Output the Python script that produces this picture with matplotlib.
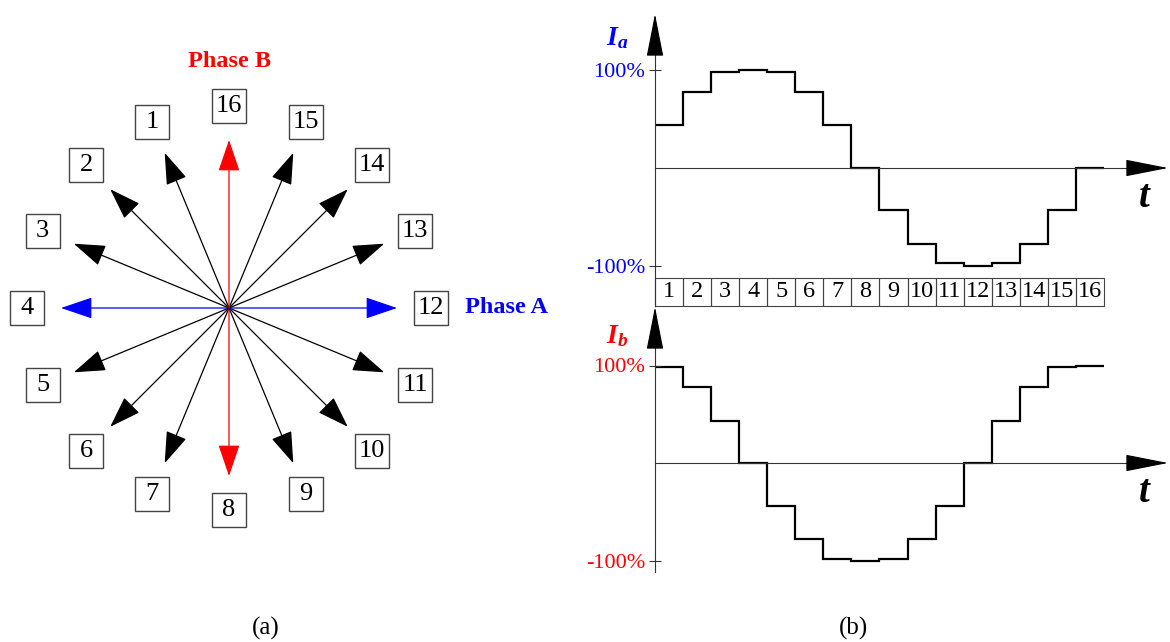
import numpy as np
import matplotlib
matplotlib.use('Agg')
import matplotlib.pyplot as plt
from matplotlib.patches import Rectangle

plt.rcParams['font.family'] = ['Liberation Serif', 'DejaVu Serif']
plt.rcParams['mathtext.fontset'] = 'custom'
plt.rcParams['mathtext.it'] = 'Liberation Serif:italic:bold'
plt.rcParams['mathtext.rm'] = 'Liberation Serif'

# phasor labels, counted from phase A (12) anticlockwise
phasor_labels = list(range(1, 17))
phasor_angles = [90 + 22.5 * k for k in phasor_labels]
phasor_colors = {4: 'blue', 12: 'blue', 8: 'red', 16: 'red'}

# step currents for the 16 steps
steps = list(range(1, 17))
ia = [0.44, 0.78, 0.98, 1.0, 0.98, 0.78, 0.44, 0.0,
      -0.43, -0.78, -0.97, -1.0, -0.97, -0.78, -0.43, 0.0]
ib = [0.98, 0.78, 0.43, 0.0, -0.44, -0.78, -0.98, -1.0,
      -0.98, -0.78, -0.44, 0.0, 0.43, 0.78, 0.98, 1.0]

W, H = 1170, 642
fig = plt.figure(figsize=(W / 100, H / 100), dpi=100)


def px_axes(x0, y0, x1, y1):
    a = fig.add_axes([x0 / W, 1 - y1 / H, (x1 - x0) / W, (y1 - y0) / H])
    a.patch.set_visible(False)
    return a


# ---------- (a) phasor diagram ----------
cx, cy, s = 229, 308, 168.0
ax = px_axes(0, 0, 560, 600)
ax.set_xlim(-cx / s, (560 - cx) / s)
ax.set_ylim((cy - 600) / s, cy / s)
ax.axis('off')

box = 34 / s
for k, ang in zip(phasor_labels, phasor_angles):
    a = np.deg2rad(ang)
    c = phasor_colors.get(k, 'black')
    ax.annotate('', xy=(np.cos(a), np.sin(a)), xytext=(0, 0),
                arrowprops=dict(arrowstyle='-|>,head_length=2.0,head_width=0.68',
                                mutation_scale=10, color=c, lw=0.9,
                                shrinkA=0, shrinkB=0))
    bx, by = 1.2 * np.cos(a), 1.2 * np.sin(a)
    ax.add_patch(Rectangle((bx - box / 2, by - box / 2), box, box,
                           fill=False, ec='#444444', lw=1))
    ax.text(bx, by, str(k), ha='center', va='center', fontsize=19)

ax.text(0, (cy - 62) / s, 'Phase B', color='red', fontsize=17.5,
        fontweight='bold', ha='center', va='center')
ax.text((465 - cx) / s, 0, 'Phase A', color='blue', fontsize=17.5,
        fontweight='bold', ha='left', va='center')


# ---------- (b) step waveforms ----------
x0, dx = 655, 28.06
t_tip = (1168 - x0) / dx


def wave_axes(top, bottom, zero, unit, values, name, color, axis_lo, tip, strip):
    w = px_axes(570, top, 1170, bottom)
    w.set_xlim((570 - x0) / dx, (1170 - x0) / dx)
    w.set_ylim((zero - bottom) / unit, (zero - top) / unit)
    for sp in ['top', 'right']:
        w.spines[sp].set_visible(False)
    w.spines['left'].set_position(('data', 0))
    w.spines['left'].set_bounds(axis_lo, tip - 0.3)
    w.spines['bottom'].set_position(('data', 0))
    w.spines['bottom'].set_bounds(0, t_tip - 1.0)
    for sp in ['left', 'bottom']:
        w.spines[sp].set_color('#333333')
        w.spines[sp].set_linewidth(0.8)
    w.set_xticks([])
    w.set_yticks([-1, 1], ['-100%', '100%'])
    w.tick_params(axis='y', direction='inout', length=8.5, width=0.8,
                  color='#333333', labelsize=16, labelcolor=color, pad=3)

    w.stairs(values, np.arange(len(values) + 1), baseline=None,
             color='black', lw=1.6)

    # axis arrow heads
    w.annotate('', xy=(0, tip), xytext=(0, tip - 0.35),
               arrowprops=dict(arrowstyle='-|>,head_length=2.75,head_width=0.54',
                               mutation_scale=10, color='black', lw=0.8,
                               shrinkA=0, shrinkB=0), annotation_clip=False)
    w.annotate('', xy=(t_tip, 0), xytext=(t_tip - 1.0, 0),
               arrowprops=dict(arrowstyle='-|>,head_length=2.75,head_width=0.54',
                               mutation_scale=10, fc='black', ec='black',
                               lw=0.8, shrinkA=0, shrinkB=0),
               annotation_clip=False)

    w.text((1145 - x0) / dx, -30 / unit, '$t$', fontsize=28,
           ha='center', va='center')
    w.text((617 - x0) / dx, (zero - (top + 30 if top > 0 else 38)) / unit,
           name, color=color, fontsize=20, ha='center', va='center')

    if strip:
        y_top = (zero - 278) / unit
        y_bot = (zero - 306) / unit
        for k in steps:
            w.add_patch(Rectangle((k - 1, y_bot), 1, y_top - y_bot, fill=False,
                                  ec='#444444', lw=0.8, clip_on=False))
            w.text(k - 0.5, (y_top + y_bot) / 2, str(k), ha='center',
                   va='center', fontsize=17.5)
    return w


wave_axes(0, 306, 168, 98.0, ia, '$I_a$', 'blue', (168 - 306) / 98.0,
          (168 - 14) / 98.0, True)
wave_axes(306, 600, 463, 97.5, ib, '$I_b$', 'red', (463 - 572) / 97.5,
          (463 - 307) / 97.5, False)

fig.text(266 / W, 1 - 628 / H, '(a)', fontsize=18, ha='center', va='center')
fig.text(854 / W, 1 - 628 / H, '(b)', fontsize=18, ha='center', va='center')

fig.savefig('out.png', dpi=100)
